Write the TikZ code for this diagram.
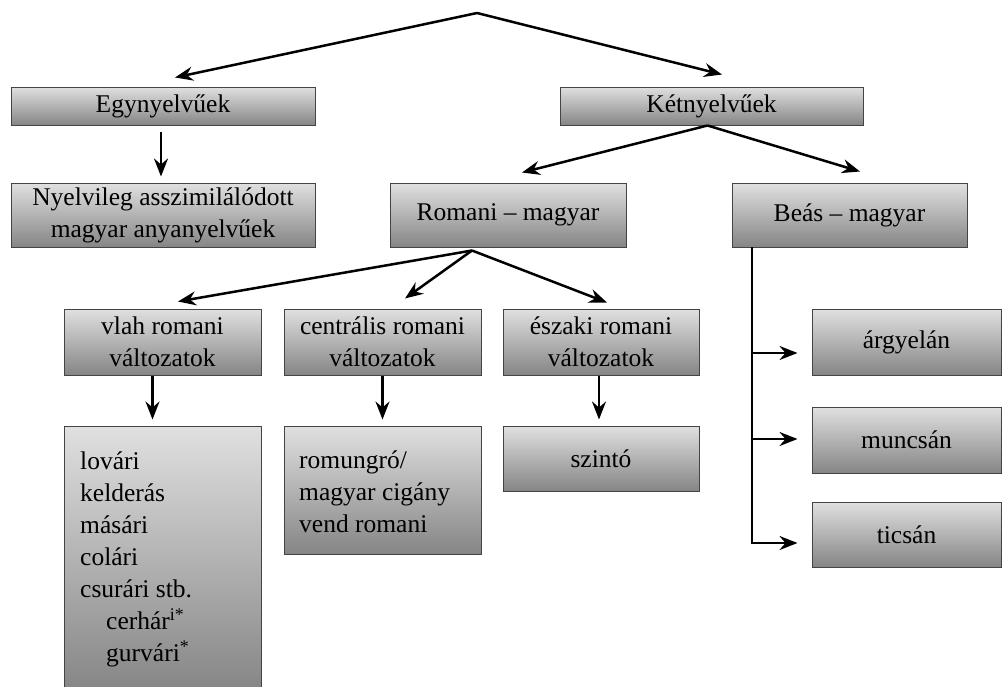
\documentclass[tikz,border=0pt]{standalone}
\usepackage{fontspec}
\setmainfont{Liberation Serif}
\usetikzlibrary{arrows.meta,calc}
\definecolor{boxtop}{HTML}{E0E0E0}
\definecolor{boxbot}{HTML}{858585}
\definecolor{boxline}{HTML}{444444}
\tikzset{
  gbox/.style={draw=boxline, line width=1pt, top color=boxtop, bottom color=boxbot,
    inner sep=0pt, align=center, font=\fontsize{25.5}{32}\selectfont},
  arr/.style={line width=2.5pt, -{Stealth[length=18pt,width=14pt,inset=6pt]}},
  ln/.style={line width=2.5pt},
}
\begin{document}
\begin{tikzpicture}[x=1pt,y=-1pt]
\useasboundingbox (0,0) rectangle (1002,686);
% boxes
\node[gbox, minimum width=304, minimum height=38] (egy) at (163,106) {Egynyelvűek};
\node[gbox, minimum width=304, minimum height=64] (nyelv) at (163,215) {Nyelvileg asszimilálódott\\magyar anyanyelvűek};
\node[gbox, minimum width=303, minimum height=38] (ket) at (711.5,106) {Kétnyelvűek};
\node[gbox, minimum width=236, minimum height=64] (rom) at (508,215) {Romani – magyar};
\node[gbox, minimum width=235, minimum height=64] (beas) at (849.5,215) {Beás – magyar};
\node[gbox, minimum width=197, minimum height=66] (vlah) at (162.5,342) {vlah romani\\változatok};
\node[gbox, minimum width=197, minimum height=66] (cent) at (382.5,342) {centrális romani\\változatok};
\node[gbox, minimum width=196, minimum height=66] (esz) at (601,342) {északi romani\\változatok};
\node[gbox, minimum width=197, minimum height=266] (lov) at (162.5,559) {};
\node[anchor=north west, align=left, inner sep=0pt, font=\fontsize{25.5}{32}\selectfont] (lovt) at (80,452)
  {lovári\\kelderás\\másári\\colári\\csurári stb.\\\hspace*{26pt}cerhár\textsuperscript{i*}\\\hspace*{26pt}gurvári\textsuperscript{*}};
\node[gbox, minimum width=197, minimum height=128] (romu) at (382.5,490) {};
\node[anchor=west, align=left, inner sep=0pt, font=\fontsize{25.5}{32}\selectfont] (romut) at (299,492)
  {romungró/\\magyar cigány\\vend romani};
\node[gbox, minimum width=196, minimum height=65] (szin) at (601,458.5) {szintó};
\node[gbox, minimum width=189, minimum height=66] (arg) at (906.5,342) {árgyelán};
\node[gbox, minimum width=189, minimum height=66] (mun) at (906.5,440) {muncsán};
\node[gbox, minimum width=189, minimum height=65] (tic) at (906.5,534.5) {ticsán};
% connectors
\coordinate (top) at (477,13);
\draw[arr] (top) -- ($(egy.north)+(12,-9)$);
\draw[arr] (top) -- ($(ket.north)+(10.5,-12)$);
\draw[arr, shorten <=6pt, shorten >=6pt] ([xshift=-2]egy.south) -- ([xshift=-2]nyelv.north);
\draw[arr] ($(ket.south)+(-4,0)$) -- ($(rom.north)+(14,-10)$);
\draw[arr] ($(ket.south)+(-4,0)$) -- ($(beas.north)+(10.5,-11)$);
\draw[arr] ($(rom.south)+(-36,3)$) -- ($(vlah.north)+(15.5,-7)$);
\draw[arr] ($(rom.south)+(-36,3)$) -- ($(cent.north)+(22.5,-10)$);
\draw[arr] ($(rom.south)+(-36,3)$) -- ($(esz.north)+(6,-6)$);
\draw[arr, shorten >=6pt] ([xshift=-10]vlah.south) -- ([xshift=-10]lov.north);
\draw[arr, shorten >=6pt] (cent.south) -- (romu.north);
\draw[arr, shorten >=6pt] ([xshift=-2]esz.south) -- ([xshift=-2]szin.north);
% Beas branches
\coordinate (b0) at (752,247);
\coordinate (b1) at (752,353);
\coordinate (b2) at (752,439);
\coordinate (b3) at (752,543);
\draw[ln] (b0) -- (b3);
\draw[arr, shorten >=14pt] ([xshift=-1.25pt]b1) -- (arg.west |- b1);
\draw[arr, shorten >=14pt] ([xshift=-1.25pt]b2) -- (mun.west |- b2);
\draw[arr, shorten >=14pt] ([xshift=-1.25pt]b3) -- (tic.west |- b3);
\end{tikzpicture}
\end{document}
